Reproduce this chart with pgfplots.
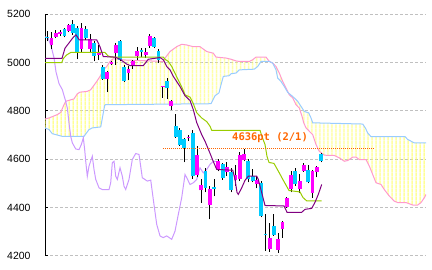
\documentclass[border=0pt]{standalone}
\usepackage{fontspec}
\setmainfont{Liberation Sans}
\newfontfamily\annofont{DejaVu Sans Mono}
\usepackage{pgfplots}
\pgfplotsset{compat=1.18}
\usepackage{pgfplotstable}
\usepgfplotslibrary{fillbetween}
\usetikzlibrary{patterns.meta}

\definecolor{candM}{HTML}{FF00FF}
\definecolor{candC}{HTML}{00CCFF}
\definecolor{tenkan}{HTML}{800080}
\definecolor{kijun}{HTML}{99CC00}
\definecolor{chikou}{HTML}{CC99FF}
\definecolor{spanA}{HTML}{FF99CC}
\definecolor{spanB}{HTML}{99CCFF}
\definecolor{cloudY}{HTML}{FFFF55}
\definecolor{gridG}{HTML}{C0C0C0}
\definecolor{annoO}{HTML}{FF6600}

% candles: x, body low, body high, low, high
\pgfplotstableread{
x lo hi L H
1 5073 5103 5056 5128
2 5108 5122 5100 5135
3 5119 5127 5110 5135
5 5132 5156 5125 5160
8 5057 5142 5040 5165
10 5056 5097 5039 5118
12 5032 5046 5010 5075
14 4932 4962 4878 4965
15 4996 5003 4990 5008
16 5039 5073 4991 5083
19 4959 4973 4929 4985
20 4991 5005 4975 5010
21 5029 5049 5010 5065
23 5032 5045 5020 5060
24 5069 5111 5060 5119
27 4900 4904 4855 4905
29 4819 4840 4805 4845
33 4687 4691 4675 4700
35 4537 4616 4525 4655
36 4471 4492 4421 4517
38 4410 4476 4352 4489
40 4558 4595 4550 4600
42 4546 4570 4530 4587
44 4513 4537 4490 4575
45 4517 4616 4510 4632
46 4596 4624 4592 4641
49 4496 4514 4480 4530
52 4228 4274 4217 4338
54 4225 4270 4214 4297
55 4313 4341 4276 4345
56 4402 4438 4400 4445
57 4476 4537 4463 4551
59 4476 4510 4460 4540
60 4551 4575 4548 4585
62 4460 4550 4440 4555
63 4547 4569 4525 4572
}\candUp

\pgfplotstableread{
x lo hi L H
0 5104 5108 5088 5130
4 5110 5139 5105 5145
6 5122 5160 5115 5176
7 5046 5142 5014 5150
9 5101 5139 5095 5150
11 5028 5080 5005 5090
13 4932 4981 4930 4990
17 5010 5091 5005 5095
18 4926 4984 4920 4990
22 5046 5053 5025 5060
25 5066 5101 5060 5105
26 5012 5049 5000 5055
28 4895 4922 4851 4935
30 4693 4739 4690 4789
31 4661 4723 4655 4730
32 4645 4682 4587 4690
34 4529 4710 4520 4723
37 4482 4551 4463 4566
39 4477 4484 4448 4517
41 4521 4579 4515 4585
43 4472 4546 4463 4566
47 4517 4592 4505 4600
48 4510 4533 4505 4562
50 4365 4500 4360 4510
51 4288 4291 4221 4372
53 4286 4324 4283 4372
58 4496 4551 4490 4566
61 4505 4554 4500 4575
64 4592 4620 4587 4628
}\candDown

\pgfplotstableread{
d p
-0.54 5018
3.44 5018
4.14 5060
5.31 5087
6.08 5105
6.71 5115
7.48 5094
11.55 5094
12.32 5066
13.09 5025
15.83 5023
17.0 5014
18.56 4994
19.34 4988
22.45 4988
23.61 5014
26.35 5021
27.12 5012
27.92 4984
28.69 4970
29.46 4943
31.03 4901
32.2 4863
33.38 4843
34.14 4805
34.93 4752
36.1 4702
36.87 4675
37.88 4632
38.81 4591
39.61 4558
43.35 4555
43.89 4517
44.35 4463
44.66 4455
45.45 4482
46.22 4513
47.0 4530
48.96 4530
49.33 4517
50.13 4462
50.9 4409
55.34 4407
56.05 4381
59.48 4381
60.25 4393
61.82 4397
62.59 4422
63.36 4455
64.16 4496
}\tenkanT

\pgfplotstableread{
d p
-0.54 5000
3.37 5000
3.74 5017
4.54 5032
5.47 5042
13.49 5042
14.19 5028
14.89 5023
27.12 5023
27.52 5014
28.29 5005
29.09 4984
30.26 4941
31.42 4900
32.2 4867
33.38 4857
34.14 4830
34.93 4793
36.1 4771
37.27 4756
38.04 4737
38.44 4720
49.73 4720
50.2 4694
50.9 4661
51.37 4612
51.84 4587
53.0 4583
54.17 4546
55.34 4508
56.51 4471
59.08 4465
59.78 4442
60.65 4428
64.16 4428
}\kijunT

\pgfplotstableread{
d p
-0.42 5108
0.23 5100
0.87 5069
1.57 5020
2.03 4962
2.74 4913
3.51 4888
4.30 4840
4.68 4812
5.07 4751
5.47 4695
5.85 4668
6.64 4643
7.41 4640
7.95 4661
8.42 4689
8.74 4640
8.98 4592
9.35 4530
9.75 4572
10.52 4613
10.92 4558
11.32 4517
12.09 4482
12.86 4475
14.43 4475
14.82 4503
15.20 4586
15.60 4592
15.99 4530
16.37 4517
17.00 4565
17.54 4530
17.93 4489
18.33 4475
19.10 4517
19.87 4599
20.67 4624
21.44 4620
22.21 4524
23.38 4510
24.18 4514
24.78 4434
25.58 4331
26.35 4283
27.12 4276
27.92 4283
29.09 4269
29.86 4303
30.63 4372
31.42 4441
32.20 4537
32.59 4524
33.36 4496
34.14 4503
34.93 4517
35.70 4565
36.47 4544
37.27 4558
38.04 4579
38.81 4592
39.44 4592
}\chikouT

\pgfplotstableread{
d p
-0.54 4767
0.40 4771
2.34 4785
3.13 4794
3.90 4826
4.30 4840
5.07 4844
6.24 4850
7.01 4871
7.65 4878
9.35 4881
10.15 4888
11.55 4922
12.32 4943
13.09 4970
13.89 4984
14.66 5005
15.36 5016
18.17 5011
27.05 5005
27.52 5019
28.69 5046
30.25 5066
31.42 5076
32.59 5073
34.14 5066
35.70 5066
37.27 5046
38.81 5039
39.44 5023
41.78 5019
42.95 5014
44.12 5007
44.89 5005
47.23 5005
48.02 5012
48.80 5023
51.13 5023
51.91 5005
52.70 4998
53.47 4984
54.24 4957
55.04 4922
55.81 4895
56.58 4867
57.38 4854
58.15 4826
58.92 4812
59.55 4778
59.95 4751
60.49 4730
61.26 4716
62.05 4702
62.82 4661
63.60 4633
64.77 4617
67.10 4616
68.27 4606
69.44 4592
70.24 4595
71.41 4609
72.18 4609
72.95 4599
74.52 4599
75.29 4572
76.08 4537
76.85 4503
78.02 4496
78.79 4475
79.96 4448
81.13 4427
81.93 4421
83.87 4421
85.43 4411
86.60 4411
87.37 4421
88.15 4441
88.54 4455
}\spanAT

\pgfplotstableread{
d p
-0.54 4730
0.40 4723
1.17 4706
3.51 4695
8.58 4695
9.75 4723
10.52 4730
12.49 4734
13.09 4792
13.42 4823
13.60 4826
38.27 4830
39.21 4863
40.14 4875
40.61 4908
41.15 4943
42.55 4946
42.95 4954
44.12 4957
44.89 4970
48.40 4973
49.19 4984
49.97 5005
51.91 5005
52.70 4998
53.47 4970
53.87 4936
54.64 4922
55.41 4901
56.21 4877
57.38 4860
58.55 4840
59.32 4819
60.09 4798
61.12 4792
61.66 4771
62.05 4751
73.74 4746
74.35 4730
74.91 4709
75.68 4694
83.63 4694
84.26 4682
85.81 4668
88.54 4668
}\spanBT

\begin{document}
\begin{tikzpicture}
\begin{axis}[
  at={(45bp,14bp)}, anchor=south west,
  scale only axis, width=381bp, height=241.7bp,
  xmin=-0.54, xmax=88.54, ymin=4200, ymax=5200,
  axis lines*=left,
  x axis line style={draw=none},
  y axis line style={black, line width=1bp},
  xtick=\empty,
  ytick={4200,4400,4600,4800,5000,5200},
  tick align=inside, major tick length=3bp,
  tick style={black, line width=1bp},
  ymajorgrids,
  major grid style={draw=gridG, line width=1bp, dash pattern=on 3bp off 2bp},
  yticklabel style={font=\fontsize{10.5}{12}\selectfont, xshift=-11bp},
  /pgf/number format/.cd, 1000 sep={}, assume math mode=true,
]
% cloud
\addplot[name path=A, draw=none, forget plot] table[x=d,y=p] \spanAT;
\addplot[name path=B, draw=none, forget plot] table[x=d,y=p] \spanBT;
\addplot[pattern={Lines[angle=90,distance=4.277bp,line width=1.1bp]}, pattern color=cloudY, draw=none] fill between[of=A and B];
\addplot[spanA, line width=1bp, mark=none] table[x=d,y=p] \spanAT;
\addplot[spanB, line width=1bp, mark=none] table[x=d,y=p] \spanBT;
% chikou
\addplot[chikou, line width=1bp, mark=none] table[x=d,y=p] \chikouT;
% candle wicks
\addplot[draw=none, mark=none, forget plot, error bars/.cd, y dir=plus, y explicit, error mark=none,
  error bar style={draw=black, solid, line width=1bp}]
  table[x=x, y=L, y error plus expr=\thisrow{H}-\thisrow{L}] \candUp;
\addplot[draw=none, mark=none, forget plot, error bars/.cd, y dir=plus, y explicit, error mark=none,
  error bar style={draw=black, solid, line width=1bp}]
  table[x=x, y=L, y error plus expr=\thisrow{H}-\thisrow{L}] \candDown;
% candle bodies
\addplot[draw=none, mark=none, forget plot, error bars/.cd, y dir=plus, y explicit, error mark=none,
  error bar style={draw=candM, solid, line width=3.8bp}]
  table[x=x, y=lo, y error plus expr=\thisrow{hi}-\thisrow{lo}] \candUp;
\addplot[draw=none, mark=none, forget plot, error bars/.cd, y dir=plus, y explicit, error mark=none,
  error bar style={draw=candC, solid, line width=3.8bp}]
  table[x=x, y=lo, y error plus expr=\thisrow{hi}-\thisrow{lo}] \candDown;
% kijun, tenkan
\addplot[kijun, line width=1bp, mark=none] table[x=d,y=p] \kijunT;
\addplot[tenkan, line width=1bp, mark=none] table[x=d,y=p] \tenkanT;
% current price line
\addplot[annoO, line width=1bp, dash pattern=on 1bp off 1bp, mark=none] coordinates {(27.0,4645) (76.2,4645)};
\node[text=annoO, font=\annofont\bfseries\fontsize{10.5}{12}\selectfont] at (axis cs:52.07,4688) {4636pt (2/1)};
\end{axis}
\path (0,0) rectangle (432bp,270bp);
\end{tikzpicture}
\end{document}
